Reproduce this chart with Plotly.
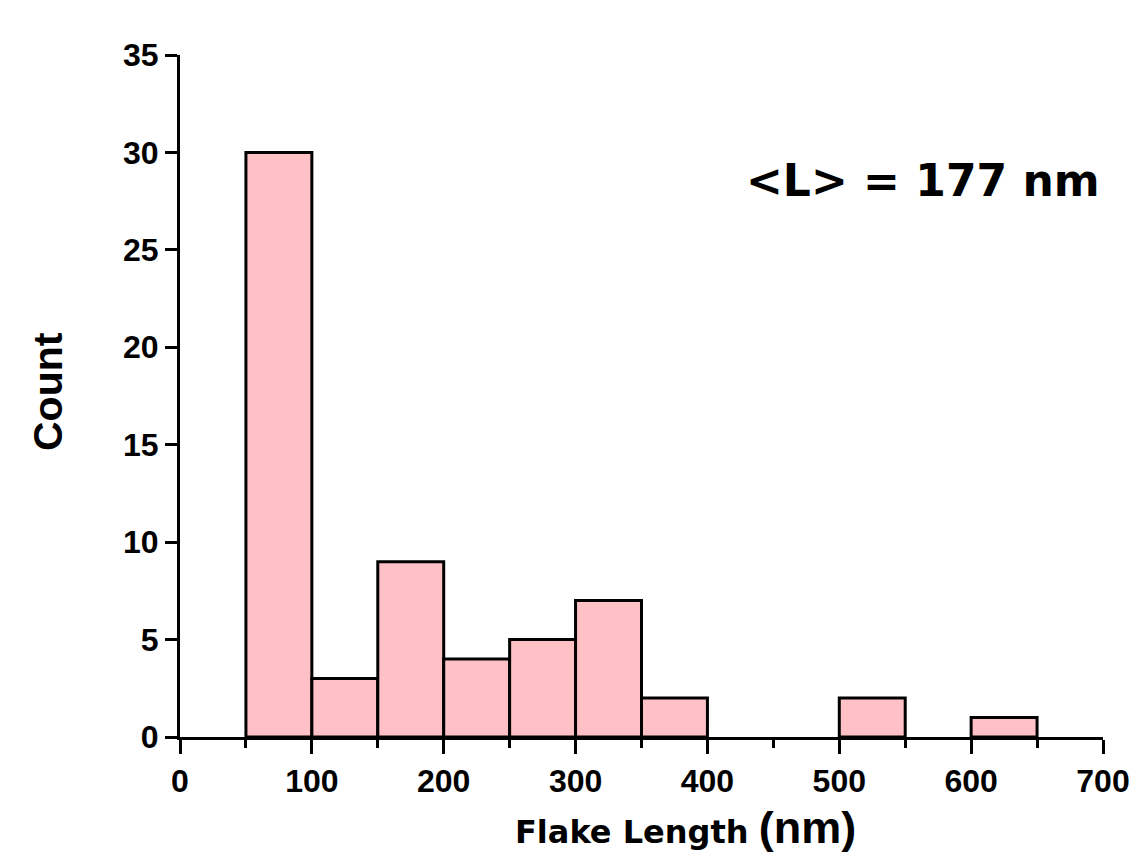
import plotly.graph_objects as go

bin_start = [50, 100, 150, 200, 250, 300, 350, 500, 600]
bin_width = 50
counts = [30, 3, 9, 4, 5, 7, 2, 2, 1]
x_ticks = [0, 100, 200, 300, 400, 500, 600, 700]
y_ticks = [0, 5, 10, 15, 20, 25, 30, 35]

centers = [s + bin_width / 2 for s in bin_start]

W, H = 1147, 864
L, R, T, B = 180, 1103, 55, 737
pw, ph = R - L, B - T

def px(xp):
    return (xp - L) / pw

def py(yp):
    return (B - yp) / ph

FONT = "Liberation Sans"
WIDE = "DejaVu Sans"

fig = go.Figure(go.Bar(
    x=centers, y=counts, width=[bin_width] * len(counts),
    marker=dict(color="#FFC1C6", line=dict(color="black", width=3)),
))

fig.update_layout(
    width=W, height=H,
    margin=dict(l=L, r=W - R, t=T, b=H - B),
    plot_bgcolor="white", paper_bgcolor="white",
    showlegend=False,
    font=dict(family=FONT, color="black"),
    xaxis=dict(
        range=[0, 700], tickvals=x_ticks, showgrid=False, zeroline=False,
        showline=True, linecolor="black", linewidth=3,
        ticks="outside", ticklen=14, tickwidth=3, tickcolor="black",
        tickfont=dict(family=FONT, size=32, color="black", weight="bold"),
        minor=dict(dtick=50, tick0=0, ticks="outside", ticklen=8, tickwidth=3, tickcolor="black"),
    ),
    yaxis=dict(
        range=[0, 35], tickvals=y_ticks, showgrid=False, zeroline=False,
        showline=True, linecolor="black", linewidth=3,
        ticks="outside", ticklen=12, tickwidth=3, tickcolor="black",
        tickfont=dict(family=FONT, size=32, color="black", weight="bold"),
    ),
    annotations=[
        dict(text="<b>Count</b>", xref="paper", yref="paper", x=px(48), y=py(392),
             textangle=-90, showarrow=False, font=dict(family=FONT, size=41, color="black"),
             xanchor="center", yanchor="middle"),
        dict(text=f"<b>Flake Length</b> <b><span style='font-size:45px;font-family:{FONT}'>(nm)</span></b>",
             xref="paper", yref="paper", x=px(685), y=py(828), showarrow=False,
             font=dict(family=WIDE, size=32, color="black"),
             xanchor="center", yanchor="middle"),
        dict(text="<b>&lt;L&gt; = 177 nm</b>", xref="paper", yref="paper", x=px(923), y=py(181),
             showarrow=False, font=dict(family=WIDE, size=44, color="black"),
             xanchor="center", yanchor="middle"),
    ],
)

fig.write_html("out.html")
